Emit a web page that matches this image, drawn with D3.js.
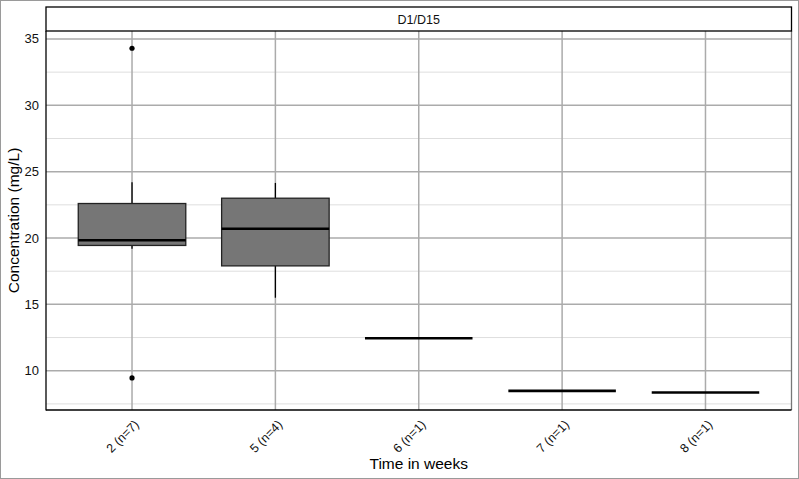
<!DOCTYPE html>
<html><head><meta charset="utf-8">
<script src="https://cdn.jsdelivr.net/npm/d3@7/dist/d3.min.js"></script>
<style>body{margin:0;background:#fff}svg{display:block;font-family:"Liberation Sans",Arial,sans-serif}</style>
</head><body>
<svg id="c" width="799" height="479"></svg>
<script>
const categories = ["2 (n=7)", "5 (n=4)", "6 (n=1)", "7 (n=1)", "8 (n=1)"];
const whiskerLow = [19.2, 15.5, 12.45, 8.48, 8.36];
const q1 = [19.44, 17.9, 12.45, 8.48, 8.36];
const median = [19.83, 20.7, 12.45, 8.48, 8.36];
const q3 = [22.6, 23.0, 12.45, 8.48, 8.36];
const whiskerHigh = [24.2, 24.15, 12.45, 8.48, 8.36];
const outliers = [[34.3, 9.46], [], [], [], []];
const yTicks = [10, 15, 20, 25, 30, 35];
const yMinor = [7.5, 12.5, 17.5, 22.5, 27.5, 32.5];

const svg = d3.select("#c");
const L = 46, R = 791.5, T = 31, B = 410;
// ggplot-like discrete expansion of 0.6 units
const n = categories.length, step = (R - L) / (n - 1 + 1.2);
const x = d3.scalePoint().domain(categories).range([L + 0.6 * step, R - 0.6 * step]);
const xc = c => x(c);
const y = d3.scaleLinear().domain([7.04, 35.6]).range([B, T]);
const bw = step * 0.75;

svg.append("rect").attr("x", 0.5).attr("y", 0.5).attr("width", 798).attr("height", 478)
  .attr("fill", "#fff").attr("stroke", "#9a9a9a");

// gridlines
const g = svg.append("g");
g.selectAll(".mn").data(yMinor).join("line")
  .attr("x1", L).attr("x2", R).attr("y1", d => y(d)).attr("y2", d => y(d))
  .attr("stroke", "#dedede").attr("stroke-width", 1);
g.selectAll(".mj").data(yTicks).join("line")
  .attr("x1", L).attr("x2", R).attr("y1", d => y(d)).attr("y2", d => y(d))
  .attr("stroke", "#ababab").attr("stroke-width", 1.5);
g.selectAll(".vx").data(categories).join("line")
  .attr("x1", d => xc(d)).attr("x2", d => xc(d)).attr("y1", T).attr("y2", B)
  .attr("stroke", "#ababab").attr("stroke-width", 1.5);

// boxes
const data = categories.map((c, i) => ({c, lo: whiskerLow[i], q1: q1[i], md: median[i], q3: q3[i], hi: whiskerHigh[i], out: outliers[i]}));
const bx = svg.append("g").selectAll("g").data(data).join("g");
bx.filter(d => d.hi > d.q3).append("line")
  .attr("x1", d => xc(d.c)).attr("x2", d => xc(d.c)).attr("y1", d => y(d.q3)).attr("y2", d => y(d.hi))
  .attr("stroke", "#000").attr("stroke-width", 1.3);
bx.filter(d => d.lo < d.q1).append("line")
  .attr("x1", d => xc(d.c)).attr("x2", d => xc(d.c)).attr("y1", d => y(d.q1)).attr("y2", d => y(d.lo))
  .attr("stroke", "#000").attr("stroke-width", 1.3);
bx.filter(d => d.q3 > d.q1).append("rect")
  .attr("x", d => xc(d.c) - bw / 2).attr("width", bw)
  .attr("y", d => y(d.q3)).attr("height", d => y(d.q1) - y(d.q3))
  .attr("fill", "#767676").attr("stroke", "#222").attr("stroke-width", 1.3);
bx.append("line")
  .attr("x1", d => xc(d.c) - bw / 2).attr("x2", d => xc(d.c) + bw / 2)
  .attr("y1", d => y(d.md)).attr("y2", d => y(d.md))
  .attr("stroke", "#000").attr("stroke-width", 2.6);
bx.selectAll("circle").data(d => d.out.map(v => ({c: d.c, v}))).join("circle")
  .attr("cx", d => xc(d.c)).attr("cy", d => y(d.v)).attr("r", 2.6).attr("fill", "#000");

// panel border
svg.append("line").attr("x1", R).attr("x2", R).attr("y1", T).attr("y2", B).attr("stroke", "#777").attr("stroke-width", 1.3);
svg.append("line").attr("x1", L).attr("x2", L).attr("y1", T).attr("y2", B + 0.6).attr("stroke", "#000").attr("stroke-width", 1.3);
svg.append("line").attr("x1", L).attr("x2", R).attr("y1", B).attr("y2", B).attr("stroke", "#000").attr("stroke-width", 1.3);

// strip
svg.append("rect").attr("x", L).attr("y", 7).attr("width", R - L).attr("height", T - 7)
  .attr("fill", "#fff").attr("stroke", "#000").attr("stroke-width", 1.3);
svg.append("text").attr("x", (L + R) / 2).attr("y", 23.5).attr("text-anchor", "middle")
  .attr("font-size", 12.5).attr("fill", "#111").text("D1/D15");

// y axis labels
svg.selectAll(".yl").data(yTicks).join("text")
  .attr("x", 39).attr("y", d => y(d) + 4.5).attr("text-anchor", "end")
  .attr("font-size", 13).attr("fill", "#111").text(d => d);
// x labels
svg.selectAll(".xl").data(categories).join("text")
  .attr("transform", d => `translate(${xc(d) + 1.5},${B + 9}) rotate(-45)`)
  .attr("text-anchor", "end").attr("dy", "0.71em")
  .attr("font-size", 12.5).attr("fill", "#111").text(d => d);

svg.append("text").attr("x", (L + R) / 2).attr("y", 469).attr("text-anchor", "middle")
  .attr("font-size", 15.5).attr("fill", "#000").text("Time in weeks");
svg.append("text").attr("transform", `translate(19,${(T + B) / 2}) rotate(-90)`)
  .attr("text-anchor", "middle").attr("font-size", 15.5).attr("fill", "#000").text("Concentration (mg/L)");
</script>
</body></html>
